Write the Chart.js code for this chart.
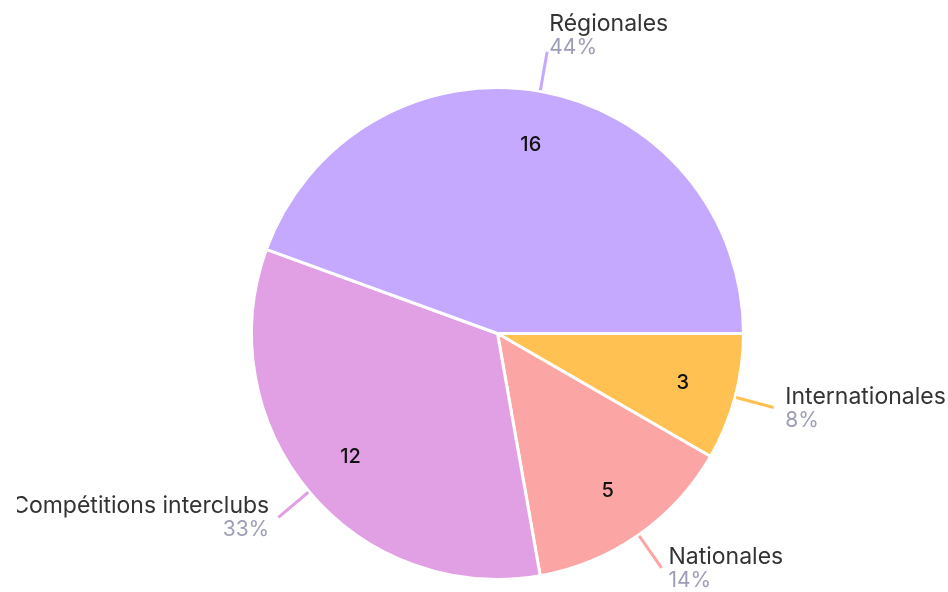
<!DOCTYPE html>
<html>
<head>
<meta charset="utf-8">
<script src="https://cdn.jsdelivr.net/npm/chart.js@4/dist/chart.umd.min.js"></script>
<style>
  html, body { margin: 0; padding: 0; background: #ffffff; }
  #wrap { width: 948px; height: 592px; position: relative; }
</style>
</head>
<body>
<div id="wrap"><canvas id="c" width="948" height="592"></canvas></div>
<script>
const categories = ["Internationales", "Nationales", "Compétitions interclubs", "Régionales"];
const values = [3, 5, 12, 16];
const colors = ["#FFC252", "#FCA5A5", "#E2A0E4", "#C5A8FF"];

const FONT = "Inter";

const outsideLabels = {
  id: 'outsideLabels',
  afterDatasetsDraw(chart) {
    const ctx = chart.ctx;
    const meta = chart.getDatasetMeta(0);
    const total = values.reduce((a, b) => a + b, 0);
    ctx.save();
    ctx.beginPath();
    ctx.rect(17, 0, chart.width - 17, chart.height);
    ctx.clip();
    meta.data.forEach((arc, i) => {
      const p = arc.getProps(['x', 'y', 'startAngle', 'endAngle', 'outerRadius'], true);
      const mid = (p.startAngle + p.endAngle) / 2;
      const c = Math.cos(mid), s = Math.sin(mid);
      const R = p.outerRadius;
      // inner value
      ctx.fillStyle = '#111111';
      ctx.font = `500 20px ${FONT}`;
      ctx.textAlign = 'center';
      ctx.textBaseline = 'middle';
      const ir = R * 0.78;
      ctx.fillText(String(values[i]), p.x + c * ir, p.y + s * ir);
      // leader line
      const r1 = R + 1, r2 = R + 40;
      const x1 = p.x + c * r1, y1 = p.y + s * r1;
      const x2 = p.x + c * r2, y2 = p.y + s * r2;
      ctx.strokeStyle = colors[i];
      ctx.lineWidth = 3;
      ctx.beginPath();
      ctx.moveTo(x1, y1);
      ctx.lineTo(x2, y2);
      ctx.stroke();
      // label block
      const right = c >= 0;
      const tx = x2 + (right ? 1 : -1) * (12 * Math.abs(c));
      ctx.textAlign = right ? 'left' : 'right';
      const top = s < -0.7;
      const nameBase = top ? y2 - 21 : y2 - 4;
      ctx.textBaseline = 'alphabetic';
      ctx.font = `400 23px ${FONT}`;
      ctx.fillStyle = '#333333';
      ctx.fillText(categories[i], tx, nameBase);
      ctx.font = `400 21px ${FONT}`;
      ctx.fillStyle = '#9E9DB9';
      const pct = Math.round(values[i] / total * 100) + '%';
      ctx.fillText(pct, tx, nameBase + 23);
    });
    ctx.restore();
  }
};

new Chart(document.getElementById('c'), {
  type: 'pie',
  data: {
    labels: categories,
    datasets: [{
      data: values,
      backgroundColor: colors,
      borderColor: '#ffffff',
      borderWidth: 3,
      hoverOffset: 0
    }]
  },
  options: {
    responsive: false,
    animation: false,
    rotation: 90,
    layout: { padding: { top: 86, bottom: 11, left: 200, right: 153 } },
    plugins: {
      legend: { display: false },
      tooltip: { enabled: false }
    }
  },
  plugins: [outsideLabels]
});
</script>
</body>
</html>
